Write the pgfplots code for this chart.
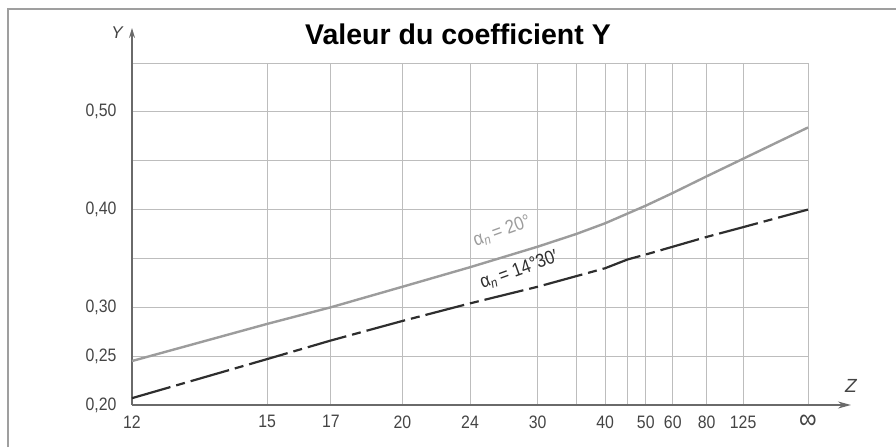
\documentclass[border=0pt]{standalone}
\usepackage{fontspec}
\setmainfont{Liberation Sans}
\newfontfamily\narrow[FakeStretch=0.88]{Liberation Sans}
\usepackage{pgfplots}
\pgfplotsset{compat=1.18}
\usetikzlibrary{arrows.meta}
\definecolor{gridc}{HTML}{BDBDBD}
\definecolor{axc}{HTML}{6A6A6A}
\definecolor{curveA}{HTML}{9C9C9C}
\definecolor{curveB}{HTML}{2E2E2E}
\definecolor{txt}{HTML}{444444}
\begin{document}
\begin{tikzpicture}[x=1pt,y=1pt]
\useasboundingbox (0,0) rectangle (896,447);
\draw[line width=1.4pt, color=gray!75] (8,0) -- (8,438) -- (896,438);
\begin{axis}[
  at={(132pt,42pt)}, anchor=south west,
  scale only axis, width=676pt, height=342pt,
  xmin=-8.3333, xmax=0, ymin=0.20, ymax=0.55,
  clip=false,
  axis lines=left,
  axis line style={draw=axc, line width=1.4pt},
  x axis line style={-{Stealth[length=13pt,width=7pt]}, shorten >=-43pt},
  y axis line style={-{Stealth[length=10pt,width=6pt]}, shorten >=-35pt},
  xtick={-8.3333,-6.6667,-5.8824,-5,-4.1667,-3.3333,-2.8571,-2.5,-2.2222,-2,-1.6667,-1.25,-0.8,0},
  xticklabels={12,15,17,20,24,30,,40,,50,60,80,125,{\raisebox{-4pt}{\fontsize{28}{28}\selectfont ∞}}},
  ytick={0.20,0.25,0.30,0.40,0.50},
  yticklabels={{0,20},{0,25},{0,30},{0,40},{0,50}},
  minor ytick={0.35,0.45,0.55},
  grid=both,
  major grid style={draw=gridc, line width=0.8pt},
  minor grid style={draw=gridc, line width=0.8pt},
  major tick length=0pt, minor tick length=0pt,
  tick label style={font=\narrow\fontsize{18}{18}\selectfont, text=txt},
  yticklabel style={xshift=-12pt},
  xticklabel style={yshift=-7pt},
]
% alpha_n = 20 deg ; x = -100/Z
\addplot[curveA, line width=2.4pt] coordinates {
  (-8.3333,0.245) (-6.6667,0.283) (-5.8824,0.300) (-5,0.321) (-4.1667,0.341)
  (-3.3333,0.362) (-2.8571,0.375) (-2.5,0.386) (-2.2222,0.396) (-2,0.404)
  (-1.6667,0.417) (-1.25,0.434) (-0.8,0.452) (0,0.484)
};
% alpha_n = 14 deg 30'
\addplot[curveB, line width=2.2pt, dash pattern=on 40pt off 6pt on 9pt off 6pt] coordinates {
  (-8.3333,0.207) (-6.6667,0.247) (-5.8824,0.266) (-5,0.286) (-4.1667,0.304)
  (-3.3333,0.321) (-2.5,0.340) (-2.2222,0.349) (-2,0.354) (-1.6667,0.362)
  (-1.25,0.372) (-0.8,0.382) (0,0.400)
};
\end{axis}
\node[font=\bfseries\fontsize{28.5}{28.5}\selectfont] at (458,413) {Valeur du coefficient Y};
\node[font=\itshape\fontsize{17}{17}\selectfont, text=txt] at (117,414) {Y};
\node[font=\itshape\fontsize{19}{19}\selectfont, text=txt] at (851,61) {Z};
\node[rotate=20, font=\narrow\fontsize{19}{19}\selectfont, text=curveA] at (502,216) {α\textsubscript{\itshape n}\,= 20°};
\node[rotate=20, font=\narrow\fontsize{19}{19}\selectfont, text=curveB] at (519,177) {α\textsubscript{\itshape n}\,= 14°30′};
\end{tikzpicture}
\end{document}
